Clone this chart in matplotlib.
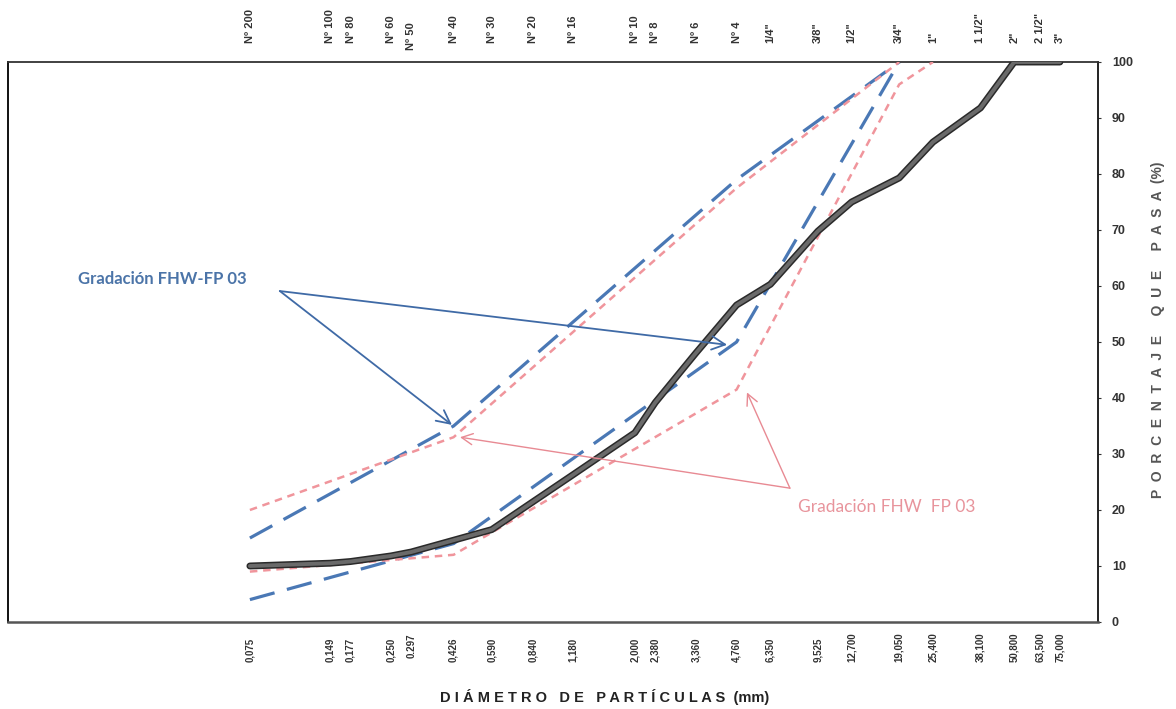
import matplotlib
matplotlib.use("Agg")
import matplotlib.pyplot as plt
from matplotlib.ticker import NullLocator
from matplotlib.transforms import ScaledTranslation

plt.rcParams['font.family'] = ['Liberation Sans', 'DejaVu Sans']

# Sieve openings (mm) and their names
sizes_mm = [0.075, 0.149, 0.177, 0.250, 0.297, 0.426, 0.590, 0.840, 1.180,
            2.000, 2.380, 3.360, 4.760, 6.350, 9.525, 12.700, 19.050,
            25.400, 38.100, 50.800, 63.500, 75.000]
size_labels = ['0,075', '0,149', '0,177', '0,250', '0.297', '0,426', '0,590',
               '0,840', '1,180', '2,000', '2,380', '3,360', '4,760', '6,350',
               '9,525', '12,700', '19,050', '25,400', '38,100', '50,800',
               '63,500', '75,000']
sieve_labels = ['Nº 200', 'Nº 100', 'Nº 80', 'Nº 60', 'Nº 50', 'Nº 40',
                'Nº 30', 'Nº 20', 'Nº 16', 'Nº 10', 'Nº 8', 'Nº 6', 'Nº 4',
                '1/4"', '3/8"', '1/2"', '3/4"', '1"', '1 1/2"', '2"',
                '2 1/2"', '3"']

# Measured gradation (% passing)
passing = [10.0, 10.5, 10.8, 11.8, 12.5, 14.6, 16.5, 21.5, 26.3, 33.8, 39.2,
           48.0, 56.6, 60.3, 69.8, 75.0, 79.3, 85.7, 91.8, 100.0, 100.0, 100.0]

# FHW-FP 03 band limits (blue)
blue_sizes = [0.075, 0.426, 4.760, 19.050]
blue_upper = [15.0, 35.0, 79.0, 100.0]
blue_lower = [4.0, 14.0, 50.0, 100.0]

# FHW FP 03 band limits (pink)
pink_upper_sizes = [0.075, 0.426, 4.760, 19.050]
pink_upper = [20.0, 33.0, 77.5, 100.0]
pink_lower_sizes = [0.075, 0.426, 4.760, 19.050, 25.400]
pink_lower = [9.0, 12.0, 41.5, 96.0, 100.0]

x_title = 'DIÁMETRO DE PARTÍCULAS'
y_title = 'PORCENTAJE QUE PASA'
band_label_blue = 'Gradación FHW-FP 03'
band_label_pink = 'Gradación FHW  FP 03'

W, H = 1176, 709
fig = plt.figure(figsize=(W / 100, H / 100), dpi=100)
ax = fig.add_axes([8 / W, 1 - 622 / H, (1098 - 8) / W, (622 - 62) / H])
ax.set_xscale('log')
xlim = (0.00953, 103.8)
ax.set_xlim(*xlim)
ax.set_ylim(0, 100)

blue = '#4a78b5'
pink = '#f0959c'

ax.plot(blue_sizes, blue_upper, color=blue, lw=2.3, dashes=(8, 4),
        zorder=2)
ax.plot(blue_sizes, blue_lower, color=blue, lw=2.3, dashes=(8, 4),
        zorder=2)
ax.plot(pink_upper_sizes, pink_upper, color=pink, lw=1.8, dashes=(3, 2.3),
        zorder=3)
ax.plot(pink_lower_sizes, pink_lower, color=pink, lw=1.8, dashes=(3, 2.3),
        zorder=3)
ax.plot(sizes_mm, passing, color='#2a2a2a', lw=5.0, solid_joinstyle='round',
        solid_capstyle='round', zorder=4)
ax.plot(sizes_mm, passing, color='#6a6a6a', lw=2.8, solid_joinstyle='round',
        solid_capstyle='round', zorder=5)

# Bottom axis: sieve openings in mm
ax.xaxis.set_minor_locator(NullLocator())
ax.set_xticks(sizes_mm)
ax.set_xticklabels(size_labels, rotation=90, fontsize=7, fontweight='bold',
                   color='#333333')
ax.tick_params(axis='x', which='both', length=0, pad=28.5)
for lbl in ax.get_xticklabels():
    lbl.set_va('bottom')

# Right axis: percentage passing
ax.yaxis.tick_right()
ax.set_yticks(range(0, 101, 10))
ax.set_yticklabels([str(v) for v in range(0, 101, 10)], fontsize=9,
                   fontweight='bold', color='#333333')
ax.tick_params(axis='y', which='both', left=False, right=True, direction='out',
               length=2, width=0.8, pad=8, colors='#333333')

# Top axis: sieve names
axt = ax.twiny()
axt.set_xscale('log')
axt.set_xlim(*xlim)
axt.xaxis.set_minor_locator(NullLocator())
axt.set_xticks(sizes_mm)
axt.set_xticklabels(sieve_labels, rotation=90, fontsize=8,
                    fontweight='bold', color='#333333')
axt.tick_params(axis='x', which='both', length=0, pad=13.5)
for s in axt.spines.values():
    s.set_visible(False)

# Staggered labels where neighbours sit close together
top_ticks = axt.xaxis.get_major_ticks()
lbl = top_ticks[sieve_labels.index('Nº 50')].label2
lbl.set_transform(lbl.get_transform()
                  + ScaledTranslation(0, -7 / 100, fig.dpi_scale_trans))
bottom_ticks = ax.xaxis.get_major_ticks()
lbl = bottom_ticks[size_labels.index('0.297')].label1
lbl.set_transform(lbl.get_transform()
                  + ScaledTranslation(0, 4 / 100, fig.dpi_scale_trans))

ax.spines['left'].set_color('#111111')
ax.spines['left'].set_linewidth(1.4)
ax.spines['right'].set_color('#111111')
ax.spines['right'].set_linewidth(1.3)
ax.spines['top'].set_color('#333333')
ax.spines['top'].set_linewidth(1.3)
ax.spines['bottom'].set_color('#555555')
ax.spines['bottom'].set_linewidth(1.8)

# Axis titles with letter spacing
fig.text(605 / W, 1 - 697 / H, ' '.join(x_title) + '  (mm)', ha='center',
         va='center', fontsize=10.5, fontweight='bold', color='#222222')
fig.text(1158 / W, 1 - 330 / H, '  '.join(y_title) + '  (%)', ha='center',
         va='center', rotation=90, fontsize=10, fontweight='bold',
         color='#555555')

# Band callouts
ax.text(0.0354, 61.3, band_label_blue, ha='center', va='center',
        fontsize=12, fontweight='bold', color='#4b74a8', family='Lato')
arrow_blue = dict(arrowstyle='->', color='#3f6aa6', lw=1.3,
                  mutation_scale=24, shrinkA=0, shrinkB=0)
ax.annotate('', xy=(0.42, 35.2), xytext=(0.0968, 59.1),
            arrowprops=arrow_blue, zorder=6)
ax.annotate('', xy=(4.39, 49.5), xytext=(0.0968, 59.1),
            arrowprops=arrow_blue, zorder=6)

ax.text(17.2, 20.5, band_label_pink, ha='center', va='center',
        fontsize=12.5, color='#e8949c', family='Lato')
arrow_pink = dict(arrowstyle='->', color='#e88a93', lw=1.0,
                  mutation_scale=20, shrinkA=0, shrinkB=0)
ax.annotate('', xy=(0.45, 33.0), xytext=(7.5, 23.9),
            arrowprops=arrow_pink, zorder=6)
ax.annotate('', xy=(5.2, 41.0), xytext=(7.5, 23.9),
            arrowprops=arrow_pink, zorder=6)

fig.savefig('out.png', dpi=100)
